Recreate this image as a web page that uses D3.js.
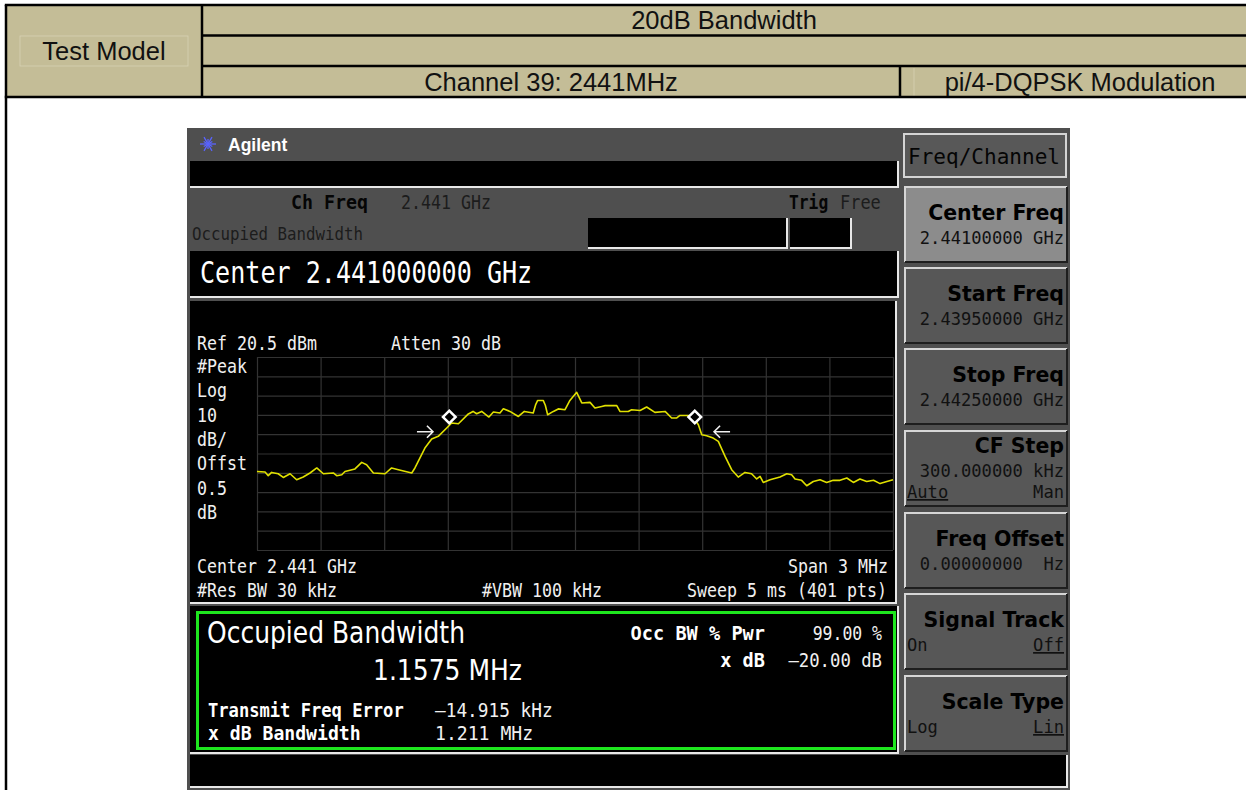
<!DOCTYPE html>
<html>
<head>
<meta charset="utf-8">
<script src="https://cdn.jsdelivr.net/npm/d3@7"></script>
<style>
body { margin: 0; background: #fff; }
svg text { white-space: pre; }
</style>
</head>
<body>
<svg width="1246" height="790"></svg>
<script>
// header table texts
var headerTitle = "20dB Bandwidth",
    testModel = "Test Model",
    channelLabel = "Channel 39: 2441MHz",
    modLabel = "pi/4-DQPSK Modulation";

// analyzer settings
var spanMHz = 3, refLevel = 20.5, dbPerDiv = 10, divisions = 10;

// trace, offset from 2.441 GHz in MHz, level in dBm
var traceOffsetMHz = [-1.500,-1.462,-1.447,-1.431,-1.400,-1.376,-1.344,-1.313,-1.282,-1.250,
  -1.218,-1.187,-1.140,-1.124,-1.100,-1.085,-1.038,-1.006,-0.983,-0.951,-0.896,-0.865,-0.833,
  -0.770,-0.755,-0.708,-0.676,-0.645,-0.598,-0.582,-0.550,-0.503,-0.481,-0.464,-0.440,-0.406,
  -0.385,-0.354,-0.338,-0.307,-0.267,-0.239,-0.197,-0.185,-0.176,-0.150,-0.140,-0.129,-0.102,-0.079,-0.047,
  -0.024,0.008,0.032,0.071,0.094,0.126,0.142,0.197,0.212,0.251,0.267,0.307,0.338,0.377,0.425,
  0.456,0.480,0.495,0.534,0.566,0.582,0.598,0.621,0.652,0.676,0.708,0.739,0.770,0.802,0.833,
  0.857,0.873,0.888,0.920,0.967,0.999,1.022,1.038,1.069,1.093,1.124,1.156,1.187,1.218,1.250,
  1.282,1.313,1.344,1.376,1.408,1.439,1.471,1.500];
var traceDbm = [-38.8,-39.1,-41.0,-39.3,-40.0,-41.9,-40.0,-43.1,-41.7,-39.6,
  -37.0,-40.0,-39.6,-41.0,-40.5,-38.8,-37.5,-34.1,-35.3,-39.6,-40.0,-37.0,-37.9,
  -39.6,-37.0,-26.7,-22.0,-20.6,-15.5,-13.7,-14.1,-9.0,-7.7,-8.9,-7.7,-10.6,
  -8.0,-8.5,-6.3,-7.7,-10.3,-7.7,-8.5,-4.0,-2.0,-2.0,-4.5,-9.4,-7.7,-6.4,-6.8,
  -2.0,2.2,-3.3,-3.0,-5.9,-5.1,-4.7,-4.7,-7.7,-7.7,-6.8,-7.2,-5.4,-8.2,-7.7,
  -11.1,-11.1,-9.8,-9.8,-12.0,-14.6,-19.8,-20.3,-21.5,-23.2,-31.0,-37.9,-41.7,-39.3,-40.0,
  -42.7,-41.4,-44.5,-43.1,-41.7,-40.0,-40.5,-42.7,-43.4,-46.2,-44.0,-43.1,-44.5,-43.4,-43.4,
  -42.2,-44.5,-42.7,-44.0,-43.4,-45.1,-44.0,-43.1];

// OBW markers and x dB arrows
var markerOffsetMHz = [-0.593, 0.565], markerDbm = [-10.6, -10.6];
var arrowTipMHz = [-0.670, 0.656], arrowDir = [1, -1], arrowDbm = -18.2;

// screen text
var plotLeftLabels = ["#Peak", "Log", "10", "dB/", "Offst", "0.5", "dB"];
var softkeys = [
  {title: "Center Freq", value: "2.44100000 GHz", active: true},
  {title: "Start Freq", value: "2.43950000 GHz"},
  {title: "Stop Freq", value: "2.44250000 GHz"},
  {title: "CF Step", value: "300.000000 kHz", left: "Auto", right: "Man", ul: "left"},
  {title: "Freq Offset", value: "0.00000000  Hz"},
  {title: "Signal Track", left: "On", right: "Off", ul: "right"},
  {title: "Scale Type", left: "Log", right: "Lin", ul: "right"}
];

var svg = d3.select("svg");

function txt(g, x, y, s, o) {
  o = o || {};
  var t = g.append("text")
      .attr("x", x).attr("y", y).text(s)
      .attr("font-family", o.fam || "DejaVu Sans Mono")
      .attr("font-size", o.size || 18)
      .attr("font-weight", o.bold ? "bold" : "normal")
      .attr("fill", o.fill || "#f0f0f0")
      .attr("text-anchor", o.anchor || "start");
  if (o.cw) t.attr("textLength", s.length * o.cw).attr("lengthAdjust", "spacingAndGlyphs");
  if (o.w) t.attr("textLength", o.w).attr("lengthAdjust", "spacingAndGlyphs");
  if (o.ul) t.attr("text-decoration", "underline");
  return t;
}

function line(g, x1, y1, x2, y2, c, w) {
  g.append("line").attr("x1", x1).attr("y1", y1).attr("x2", x2).attr("y2", y2)
    .attr("stroke", c).attr("stroke-width", w);
}

// black panel with the light bevel on bottom and right
function panel(g, x, y, w, h) {
  g.append("rect").attr("x", x).attr("y", y).attr("width", w).attr("height", h).attr("fill", "#000");
  g.append("path")
    .attr("d", "M" + x + "," + (y + h + 1) + "H" + (x + w + 1) + "V" + y)
    .attr("fill", "none").attr("stroke", "#e8e8e8").attr("stroke-width", 2);
}

// ---- header table
var hdr = svg.append("g");
hdr.append("rect").attr("x", 6).attr("y", 5).attr("width", 1240).attr("height", 92).attr("fill", "#c4bd97");
hdr.append("rect").attr("x", 20).attr("y", 36).attr("width", 168).attr("height", 30)
  .attr("fill", "none").attr("stroke", "#d8d2b4").attr("stroke-width", 0.8);
line(hdr, 914, 68, 914, 96, "#d8d2b4", 0.8);
line(hdr, 4.8, 5, 1246, 5, "#000", 2.5);
line(hdr, 6, 5, 6, 790, "#000", 2.5);
line(hdr, 202, 5, 202, 97, "#000", 2.5);
line(hdr, 202, 35.5, 1246, 35.5, "#000", 2.5);
line(hdr, 202, 66, 1246, 66, "#000", 2.5);
line(hdr, 4.8, 97, 1246, 97, "#000", 2.5);
line(hdr, 900, 66, 900, 97, "#000", 2.5);
var hf = {fam: "Liberation Sans, Arial, sans-serif", size: 25.5, fill: "#111", anchor: "middle"};
txt(hdr, 724, 29, headerTitle, hf);
txt(hdr, 104, 60, testModel, hf);
txt(hdr, 551, 91, channelLabel, hf);
txt(hdr, 1080, 91, modLabel, hf);

// ---- analyzer screen
var scr = svg.append("g");
scr.append("rect").attr("x", 187).attr("y", 128).attr("width", 883).attr("height", 662).attr("fill", "#4f4f4f");

// logo
var logo = scr.append("g").attr("transform", "translate(208,144)");
d3.range(12).forEach(function(i) {
  var a = i * Math.PI / 6, r = i % 2 ? 5 : 8;
  logo.append("line").attr("x1", 0).attr("y1", 0)
    .attr("x2", r * Math.cos(a)).attr("y2", r * Math.sin(a))
    .attr("stroke", "#5a64ff").attr("stroke-width", 1.3);
});
txt(scr, 228, 151, "Agilent", {fam: "Liberation Sans, Arial, sans-serif", size: 17.5, bold: true, fill: "#fff"});

panel(scr, 190, 161, 707, 25);
txt(scr, 291, 209, "Ch Freq", {bold: true, size: 20, cw: 11, fill: "#050505"});
txt(scr, 401, 209, "2.441 GHz", {size: 19, cw: 10, fill: "#1c1c1c"});
txt(scr, 789, 209, "Trig", {bold: true, size: 20, cw: 9.8, fill: "#050505"});
txt(scr, 840, 209, "Free", {size: 19, cw: 10.2, fill: "#1c1c1c"});
txt(scr, 192, 240, "Occupied Bandwidth", {size: 18, cw: 9.5, fill: "#1c1c1c"});
panel(scr, 588, 218, 198, 29);
panel(scr, 790, 218, 60, 29);

panel(scr, 190, 251, 707, 45);
txt(scr, 200, 283, "Center 2.441000000 GHz", {size: 30, cw: 15.1, fill: "#fff"});

// ---- trace plot
panel(scr, 190, 301, 705, 301);

var x = d3.scaleLinear().domain([-spanMHz / 2, spanMHz / 2]).range([257, 893]);
var y = d3.scaleLinear().domain([refLevel - divisions * dbPerDiv, refLevel]).range([550, 357]);

var gridX = scr.append("g").attr("transform", "translate(0,550)")
  .call(d3.axisBottom(x).tickValues(d3.range(divisions + 1).map(function(i) { return -spanMHz / 2 + i * spanMHz / divisions; }))
    .tickSize(-(y.range()[0] - y.range()[1])).tickFormat(""));
var gridY = scr.append("g").attr("transform", "translate(257,0)")
  .call(d3.axisLeft(y).tickValues(d3.range(divisions + 1).map(function(i) { return refLevel - i * dbPerDiv; }))
    .tickSize(-(x.range()[1] - x.range()[0])).tickFormat(""));
[gridX, gridY].forEach(function(g) {
  g.select(".domain").remove();
  g.selectAll(".tick line").attr("stroke", "#333").attr("stroke-width", 1.2);
});

var traceLine = d3.line()
  .x(function(d, i) { return x(traceOffsetMHz[i]); })
  .y(function(d) { return y(d); });
scr.append("path").datum(traceDbm)
  .attr("d", traceLine)
  .attr("fill", "none").attr("stroke", "#e0e000").attr("stroke-width", 1.6)
  .attr("stroke-linejoin", "round");

arrowTipMHz.forEach(function(f, i) {
  var tx = x(f), ty = y(arrowDbm), d = arrowDir[i];
  scr.append("path")
    .attr("d", "M" + (tx - d * 16) + "," + ty + "H" + tx + "M" + (tx - d * 6) + "," + (ty - 6) + "L" + tx + "," + ty + "L" + (tx - d * 6) + "," + (ty + 6))
    .attr("fill", "none").attr("stroke", "#f0f0f0").attr("stroke-width", 1.6);
});

markerOffsetMHz.forEach(function(f, i) {
  scr.append("path")
    .attr("d", d3.symbol(d3.symbolSquare, 80)())
    .attr("transform", "translate(" + x(f) + "," + y(markerDbm[i]) + ") rotate(45)")
    .attr("fill", "#000").attr("stroke", "#fff").attr("stroke-width", 2.5);
});

var pl = {size: 20, cw: 10};
txt(scr, 197, 350, "Ref 20.5 dBm", pl);
txt(scr, 391, 350, "Atten 30 dB", pl);
plotLeftLabels.forEach(function(s, i) { txt(scr, 197, 373 + i * 24.3, s, pl); });
txt(scr, 197, 573, "Center 2.441 GHz", pl);
txt(scr, 197, 597, "#Res BW 30 kHz", pl);
txt(scr, 482, 597, "#VBW 100 kHz", pl);
txt(scr, 888, 573, "Span 3 MHz", {size: 20, cw: 10, anchor: "end"});
txt(scr, 887, 597, "Sweep 5 ms (401 pts)", {size: 20, cw: 10, anchor: "end"});

// ---- measurement results
panel(scr, 190, 606, 707, 146);
scr.append("rect").attr("x", 197.5).attr("y", 612.5).attr("width", 697).attr("height", 136)
  .attr("fill", "none").attr("stroke", "#1ee61e").attr("stroke-width", 3);
txt(scr, 207, 643, "Occupied Bandwidth", {fam: "DejaVu Sans, sans-serif", size: 30, w: 258, fill: "#fff"});
txt(scr, 373, 680, "1.1575 MHz", {fam: "DejaVu Sans, sans-serif", size: 29, w: 149, fill: "#fff"});
txt(scr, 208, 717, "Transmit Freq Error", {bold: true, size: 20, cw: 10.3, fill: "#fff"});
txt(scr, 435, 717, "\u201314.915 kHz", {size: 20, cw: 10.7});
txt(scr, 208, 740, "x dB Bandwidth", {bold: true, size: 20, cw: 10.9, fill: "#fff"});
txt(scr, 435, 740, "1.211 MHz", {size: 20, cw: 10.9});
txt(scr, 765, 640, "Occ BW % Pwr", {bold: true, size: 20, cw: 11.2, anchor: "end", fill: "#fff"});
txt(scr, 882, 640, "99.00 %", {size: 20, cw: 9.9, anchor: "end"});
txt(scr, 765, 667, "x dB", {bold: true, size: 20, cw: 11.2, anchor: "end", fill: "#fff"});
txt(scr, 882, 667, "\u201320.00 dB", {size: 20, cw: 10.4, anchor: "end"});

panel(scr, 190, 755, 876, 31);

// ---- softkeys
var sk = svg.append("g");
sk.append("rect").attr("x", 904).attr("y", 134).attr("width", 162).attr("height", 43)
  .attr("fill", "#585858").attr("stroke", "#d4d4d4").attr("stroke-width", 2);
txt(sk, 908, 164, "Freq/Channel", {size: 22, w: 152, fill: "#050505"});

var keyTops = [186, 267, 348, 430, 512, 593, 675], keyH = 76;
softkeys.forEach(function(k, i) {
  var t = keyTops[i], g = sk.append("g");
  g.append("rect").attr("x", 904).attr("y", t).attr("width", 163).attr("height", keyH)
    .attr("fill", k.active ? "#8c8c8c" : "#575757");
  g.append("path").attr("d", "M905," + (t + keyH) + "V" + (t + 1) + "H1067")
    .attr("fill", "none").attr("stroke", "#d6d6d6").attr("stroke-width", 2);
  g.append("path").attr("d", "M905," + (t + keyH) + "H1067V" + (t + 1))
    .attr("fill", "none").attr("stroke", "#1e1e1e").attr("stroke-width", 2);
  var three = k.value && k.left;
  var ty = three ? t + 23 : t + 34;
  txt(g, 1064, ty, k.title, {fam: "DejaVu Sans, sans-serif", size: 20.5, bold: true, anchor: "end", fill: "#000"});
  if (k.value) txt(g, 1064, ty + 24, k.value, {size: 17, cw: 10.3, anchor: "end", fill: "#111"});
  if (k.left) {
    var ly = three ? t + 68 : t + 58;
    txt(g, 907, ly, k.left, {size: 17, cw: 10.3, fill: "#111", ul: k.ul === "left"});
    txt(g, 1064, ly, k.right, {size: 17, cw: 10.3, anchor: "end", fill: "#111", ul: k.ul === "right"});
  }
});
</script>
</body>
</html>
